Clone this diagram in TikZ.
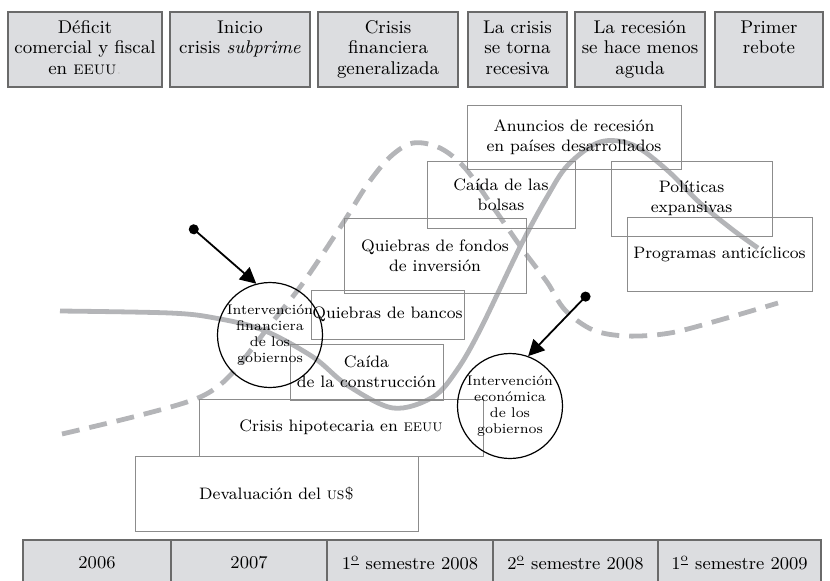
\documentclass[tikz,border=0pt]{standalone}
\usepackage{xcolor}
\usepackage{tikz}
\usetikzlibrary{arrows.meta}
\definecolor{cajagris}{HTML}{DCDDE0}
\definecolor{bordegris}{HTML}{6A6A6A}
\definecolor{marcogris}{HTML}{8C8C8C}
\definecolor{lineagris}{HTML}{B4B5B8}
\newcommand{\ordo}{\textsuperscript{\underline{o}}}
\tikzset{
  topbox/.style = {draw=bordegris, fill=cajagris, line width=0.6pt,
    inner sep=0pt, text width=#1, align=center, text height=10.5pt,
    text depth=27pt, font=\fontsize{9.2}{10.3}\selectfont},% cabecera
  yearcell/.style = {draw=bordegris, fill=cajagris, line width=0.6pt,
    inner sep=0pt, minimum width=#1, minimum height=23pt,
    font=\fontsize{9}{10.3}\selectfont},% linea de tiempo
  evbox/.style 2 args = {draw=marcogris, line width=0.5pt, inner sep=0pt,
    minimum width=#1, minimum height=#2, align=center,
    font=\fontsize{8.3}{10}\selectfont},% evento
  govcirc/.style = {circle, draw=black, line width=0.6pt, minimum size=50pt,
    inner sep=0pt, align=center, font=\fontsize{7}{8}\selectfont},% intervencion
  curva/.style = {draw=lineagris, line width=2.4pt},
  curvadash/.style = {curva, dash pattern=on 9pt off 5pt},
  flecha/.style = {black, line width=0.9pt,
    {Circle[length=5pt]}-{Triangle[length=8pt,width=8pt]}}
}

\begin{document}
\begin{tikzpicture}[x=0.5pt,y=-0.5pt]
\useasboundingbox (0,0) rectangle (830,580);

% curvas
\draw[curva] plot[smooth, tension=0.55] coordinates {(60,311) (170,313)
  (215,318) (263,330) (313,357) (347,385) (393,408) (433,397) (457,370)
  (480,330) (520,247) (547,197) (568,165) (600,142) (633,145) (667,170)
  (700,203) (733,230) (758,248)};
\draw[curvadash] plot[smooth, tension=0.55] coordinates {(62,434) (133,417)
  (187,402) (213,390) (235,370) (270,325) (303,283) (343,223) (367,185)
  (390,157) (413,143) (440,148) (465,168) (493,207) (523,250) (547,282)
  (565,310) (593,330) (627,336) (670,333) (720,320) (778,303)};

% cabeceras
\node[topbox=77pt] (c1) at (85,49.5) {D\'eficit\\comercial y fiscal\\en \textsc{eeuu}{\color{gray!40}.}};
\node[topbox=70pt] (c2) at (240,49.5) {Inicio\\crisis \textit{subprime}};
\node[topbox=70pt] (c3) at (388,49.5) {Crisis\\financiera\\generalizada};
\node[topbox=49.5pt] (c4) at (517.5,49.5) {La crisis\\se torna\\recesiva};
\node[topbox=65pt] (c5) at (640,49.5) {La recesi\'on\\se hace menos\\aguda};
\node[topbox=54pt] (c6) at (769,49.5) {Primer\\rebote};

% eventos
\node[evbox={141.5pt}{37.5pt}] (dev) at (276.5,493.5) {Devaluaci\'on del \textsc{us\$}};
\node[evbox={142pt}{28.5pt}] (hip) at (341,427.5) {Crisis hipotecaria en \textsc{eeuu}};
\node[evbox={76.5pt}{28pt}] (con) at (366.5,372) {Ca\'ida\\de la construcci\'on};
\node[evbox={76.5pt}{24.5pt}] (ban) at (387.5,314.5) {Quiebras de bancos};
\node[evbox={91pt}{37.5pt}] (fon) at (435,255.5) {Quiebras de fondos\\de inversi\'on};
\node[evbox={74pt}{33.5pt}] (bol) at (501,194.5) {Ca\'ida de las\\bolsas};
\node[evbox={107pt}{32pt}] (anu) at (574,137) {Anuncios de recesi\'on\\en pa\'ises desarrollados};
\node[evbox={80.5pt}{37.5pt}] (pol) at (691.5,198.5) {Pol\'iticas\\expansivas};
\node[evbox={92.5pt}{37pt}] (pro) at (719.5,254) {Programas antic\'iclicos};

% intervenciones
\node[govcirc] (ifin) at (270,335) {Intervenci\'on\\financiera\\de los\\gobiernos};
\node[govcirc] (ieco) at (510,406) {Intervenci\'on\\econ\'omica\\de los\\gobiernos};
\coordinate (pf) at (190,226);
\coordinate (pe) at (589,293);
\draw[flecha] (pf) -- (ifin.105);
\draw[flecha] (pe) -- (ieco.70);

% linea de tiempo
\node[yearcell=74pt] (a1) at (97,563) {2006};
\node[yearcell=78pt] (a2) at (249,563) {2007};
\node[yearcell=83pt] (a3) at (410,563) {1\ordo\ semestre 2008};
\node[yearcell=82.5pt] (a4) at (575.5,563) {2\ordo\ semestre 2008};
\node[yearcell=81.5pt] (a5) at (739.5,563) {1\ordo\ semestre 2009};
\end{tikzpicture}
\end{document}
